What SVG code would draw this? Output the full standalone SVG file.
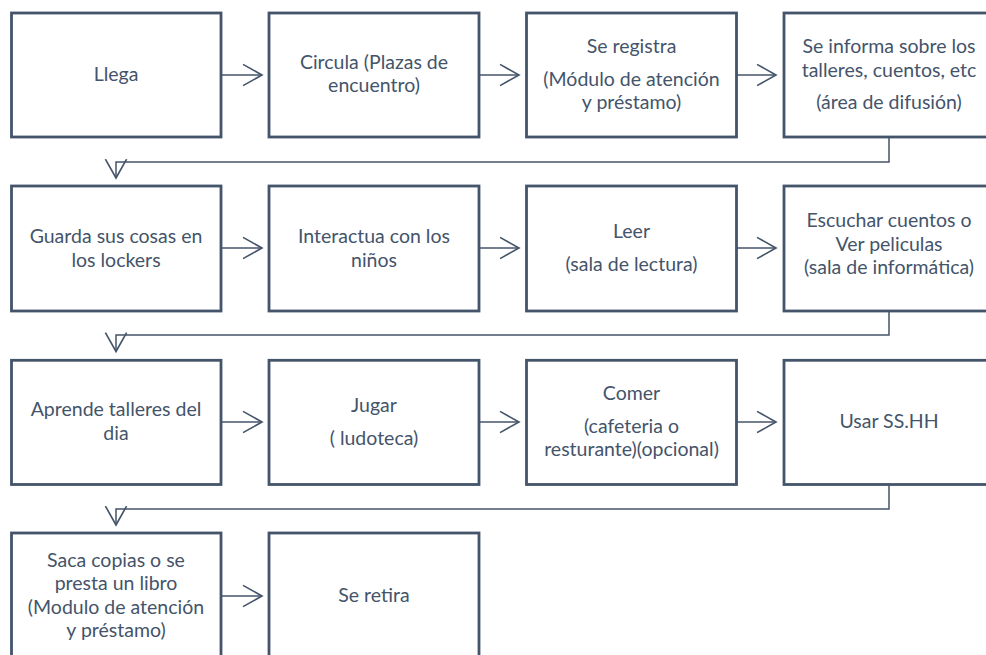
<svg xmlns="http://www.w3.org/2000/svg" width="986" height="655" viewBox="0 0 986 655">
<style>
.box{fill:#fff;stroke:#44546A;stroke-width:2.8}
.t{font-family:Lato,"Open Sans","Liberation Sans",sans-serif;font-size:19.5px;fill:#44546A;text-anchor:middle}
.c{fill:none;stroke:#44546A;stroke-width:1.5}
</style>
<defs>
<marker id="ah" markerUnits="userSpaceOnUse" markerWidth="24" markerHeight="26" viewBox="-2 -12 22 24" refX="17.5" refY="0" orient="auto">
<path d="M0,-9.8 L17.5,0 L0,9.8" fill="none" stroke="#44546A" stroke-width="1.5"/>
</marker>
</defs>
<rect width="986" height="655" fill="#fff"/>
<g id="connectors">
<path class="c" d="M221,75 H262" marker-end="url(#ah)"/>
<path class="c" d="M479,75 H519" marker-end="url(#ah)"/>
<path class="c" d="M736,75 H776" marker-end="url(#ah)"/>
<path class="c" d="M889,137 V162 H116 V178" marker-end="url(#ah)"/>
<path class="c" d="M221,248 H262" marker-end="url(#ah)"/>
<path class="c" d="M479,248 H519" marker-end="url(#ah)"/>
<path class="c" d="M736,248 H776" marker-end="url(#ah)"/>
<path class="c" d="M889,311 V335 H116 V351.5" marker-end="url(#ah)"/>
<path class="c" d="M221,422 H262" marker-end="url(#ah)"/>
<path class="c" d="M479,422 H519" marker-end="url(#ah)"/>
<path class="c" d="M736,422 H776" marker-end="url(#ah)"/>
<path class="c" d="M889,485 V509 H116 V525" marker-end="url(#ah)"/>
<path class="c" d="M221,596 H262" marker-end="url(#ah)"/>
</g>
<g id="n1"><rect class="box" x="11.5" y="13" width="209.5" height="124"/><text class="t" x="116" y="81">Llega</text></g>
<g id="n2"><rect class="box" x="269" y="13" width="210" height="124"/><text class="t" x="374" y="68.75">Circula (Plazas de</text><text class="t" x="374" y="92.25">encuentro)</text></g>
<g id="n3"><rect class="box" x="526.5" y="13" width="210" height="124"/><text class="t" x="631.5" y="53.3">Se registra</text><text class="t" x="631.5" y="85.7">(Módulo de atención</text><text class="t" x="631.5" y="109.3">y préstamo)</text></g>
<g id="n4"><rect class="box" x="784" y="13" width="210" height="124"/><text class="t" x="889" y="53.3">Se informa sobre los</text><text class="t" x="889" y="76.8">talleres, cuentos, etc</text><text class="t" x="889" y="109.3">(área de difusión)</text></g>
<g id="n5"><rect class="box" x="11.5" y="186" width="209.5" height="125"/><text class="t" x="116" y="243">Guarda sus cosas en</text><text class="t" x="116" y="266.5">los lockers</text></g>
<g id="n6"><rect class="box" x="269" y="186" width="210" height="125"/><text class="t" x="374" y="243">Interactua con los</text><text class="t" x="374" y="266.5">niños</text></g>
<g id="n7"><rect class="box" x="526.5" y="186" width="210" height="125"/><text class="t" x="631.5" y="238.3">Leer</text><text class="t" x="631.5" y="270.7">(sala de lectura)</text></g>
<g id="n8"><rect class="box" x="784" y="186" width="210" height="125"/><text class="t" x="889" y="227.3">Escuchar cuentos o</text><text class="t" x="889" y="250.8">Ver peliculas</text><text class="t" x="889" y="274.3">(sala de informática)</text></g>
<g id="n9"><rect class="box" x="11.5" y="360.3" width="209.5" height="124.2"/><text class="t" x="116" y="416.3">Aprende talleres del</text><text class="t" x="116" y="439.8">dia</text></g>
<g id="n10"><rect class="box" x="269" y="360.3" width="210" height="124.2"/><text class="t" x="374" y="411.7">Jugar</text><text class="t" x="374" y="445">( ludoteca)</text></g>
<g id="n11"><rect class="box" x="526.5" y="360.3" width="210" height="124.2"/><text class="t" x="631.5" y="400">Comer</text><text class="t" x="631.5" y="432.5">(cafeteria o</text><text class="t" x="631.5" y="456">resturante)(opcional)</text></g>
<g id="n12"><rect class="box" x="784" y="360.3" width="210" height="124.2"/><text class="t" x="889" y="428.3">Usar SS.HH</text></g>
<g id="n13"><rect class="box" x="11.5" y="533" width="209.5" height="125"/><text class="t" x="116" y="566.8">Saca copias o se</text><text class="t" x="116" y="590.3">presta un libro</text><text class="t" x="116" y="613.8">(Modulo de atención</text><text class="t" x="116" y="637.3">y préstamo)</text></g>
<g id="n14"><rect class="box" x="269" y="533" width="210" height="125"/><text class="t" x="374" y="602">Se retira</text></g>
</svg>
